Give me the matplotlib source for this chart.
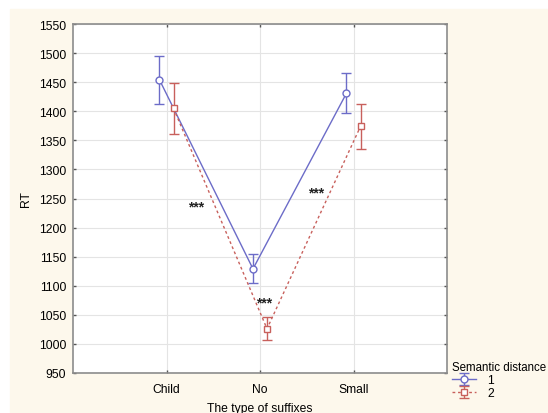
import numpy as np
import matplotlib as mpl
import matplotlib.pyplot as plt
from matplotlib.patches import Rectangle

categories = ['Child', 'No', 'Small']
rt_dist1 = [1454, 1129, 1431]
err_dist1 = [41, 25, 34]
rt_dist2 = [1405, 1026, 1374]
err_dist2 = [44, 20, 39]
star_x = [1.32, 2.04, 2.60]
star_y = [1237, 1071, 1261]

mpl.rcParams['font.family'] = ['Liberation Sans', 'DejaVu Sans']
mpl.rcParams['font.size'] = 8.7

blue = '#6c6cc8'
red = '#c8605c'
cream = '#fdf8ec'

fig = plt.figure(figsize=(5.48, 4.14), dpi=100, facecolor='white')
fig.patches.append(Rectangle((10 / 548, 0), 1, 1 - 10 / 414,
                             transform=fig.transFigure, color=cream,
                             zorder=-10))
ax = fig.add_axes([73 / 548, 1 - 374 / 414, 374 / 548, 349 / 414])
ax.set_facecolor('white')

x = np.arange(1, len(categories) + 1)
off = 0.075
ax.errorbar(x - off, rt_dist1, yerr=err_dist1, color=blue, lw=1,
            marker='o', ms=5, mfc='white', mec=blue, capsize=3.5,
            elinewidth=1, label='1')
ax.errorbar(x + off, rt_dist2, yerr=err_dist2, color=red, lw=1,
            ls=(0, (2, 2)), marker='s', ms=5, mfc='white', mec=red,
            capsize=3.5, elinewidth=1, label='2')

for sx, sy in zip(star_x, star_y):
    ax.text(sx, sy, '***', ha='center', va='center', fontsize=10,
            fontweight='bold', color='#222222')

ax.set_xlim(0, 4)
ax.set_ylim(950, 1550)
ax.set_xticks(x)
ax.set_xticklabels(categories)
ax.set_yticks(np.arange(950, 1551, 50))
ax.grid(True, color='#e4e4e4', lw=0.8)
ax.set_axisbelow(True)
ax.tick_params(direction='in', length=2, width=1, color='#555555',
               top=True, right=True, pad=5)
ax.tick_params(axis='x', pad=7)
for s in ax.spines.values():
    s.set_color('#8c8c8c')
    s.set_linewidth(1.2)
ax.set_xlabel('The type of suffixes', labelpad=5)
ax.set_ylabel('RT', labelpad=5)

leg = fig.legend(loc='upper left', bbox_to_anchor=(452 / 548, 1 - 362 / 414),
                 frameon=False, title='Semantic distance', fontsize=8.7,
                 title_fontsize=8.3, handlelength=2.0, handletextpad=0.9,
                 labelspacing=0.1, borderpad=0, borderaxespad=0)
leg._legend_box.align = 'left'

fig.savefig('out.png', dpi=100, facecolor=fig.get_facecolor())
